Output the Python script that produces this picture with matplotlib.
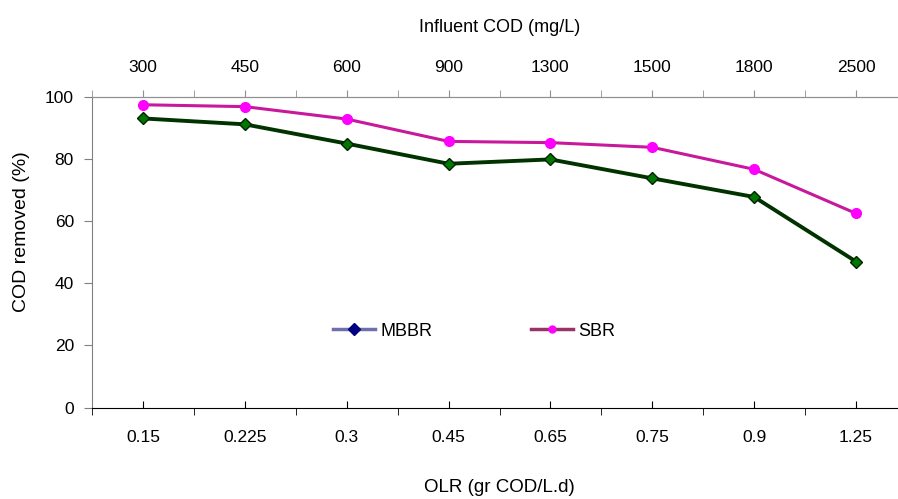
import matplotlib.pyplot as plt
from matplotlib.lines import Line2D
from matplotlib.ticker import FixedLocator

plt.rcParams["font.family"] = ["Liberation Sans", "DejaVu Sans"]

olr = ["0.15", "0.225", "0.3", "0.45", "0.65", "0.75", "0.9", "1.25"]
influent_cod = ["300", "450", "600", "900", "1300", "1500", "1800", "2500"]
mbbr = [93.1, 91.2, 85.0, 78.5, 79.9, 73.8, 67.8, 47.0]
sbr = [97.5, 96.9, 92.9, 85.7, 85.3, 83.8, 76.7, 62.5]

x = list(range(len(olr)))
bounds = [i + 0.5 for i in range(-1, len(olr))]

fig = plt.figure(figsize=(8.98, 4.99), dpi=100)
ax = fig.add_axes([92 / 898, 1 - 407.5 / 499, 815 / 898, 310.5 / 499])

ax.plot(x, sbr, color="#c8189c", linewidth=2.2, marker="o", markersize=7,
        markerfacecolor="#ff00ff", markeredgecolor="#ff00ff", zorder=3)
ax.plot(x, mbbr, color="#003300", linewidth=2.8, marker="D", markersize=6,
        markerfacecolor="#007700", markeredgecolor="#002200", markeredgewidth=1, zorder=3)

ax.set_xlim(-0.5, len(olr) - 0.5)
ax.set_ylim(0, 100)
ax.set_yticks([0, 20, 40, 60, 80, 100])
ax.set_xticks(x)
ax.set_xticklabels(olr)
ax.xaxis.set_minor_locator(FixedLocator(bounds))
ax.tick_params(axis="x", which="major", direction="in", length=5, color="black",
               labelsize=12.5, pad=16)
ax.tick_params(axis="x", which="minor", direction="out", length=5, color="black")
ax.tick_params(axis="y", direction="out", length=6, color="#808080", labelsize=12.5, pad=7)

ax.spines["right"].set_visible(False)
ax.spines["top"].set_color("#909090")
ax.spines["left"].set_color("#808080")
ax.spines["bottom"].set_color("black")

ax.set_ylabel("COD removed (%)", fontsize=14)
ax.yaxis.set_label_coords(-0.076, 0.568)
ax.set_xlabel("OLR (gr COD/L.d)", fontsize=13.5, labelpad=25)

top = ax.secondary_xaxis("top")
top.set_xticks(x)
top.set_xticklabels(influent_cod)
top.xaxis.set_minor_locator(FixedLocator(bounds))
top.tick_params(axis="x", which="both", direction="out", length=5, color="#909090",
                labelsize=12.5, pad=11)
top.spines["top"].set_color("#909090")
top.set_xlabel("Influent COD (mg/L)", fontsize=13, labelpad=20)

handles = [
    Line2D([], [], color="#6f6fab", linewidth=2.5, marker="D", markersize=6,
           markerfacecolor="#000080", markeredgecolor="#000080"),
    Line2D([], [], color="#993366", linewidth=2.5, marker="o", markersize=5,
           markerfacecolor="#ff00ff", markeredgecolor="#ff00ff"),
]
ax.legend(handles, ["MBBR", "SBR"], ncol=2, frameon=False, fontsize=13,
          loc="center", bbox_to_anchor=(0.469, 0.246), columnspacing=5.5,
          handlelength=2.3, handletextpad=0.3)

fig.savefig("out.png", dpi=100)
